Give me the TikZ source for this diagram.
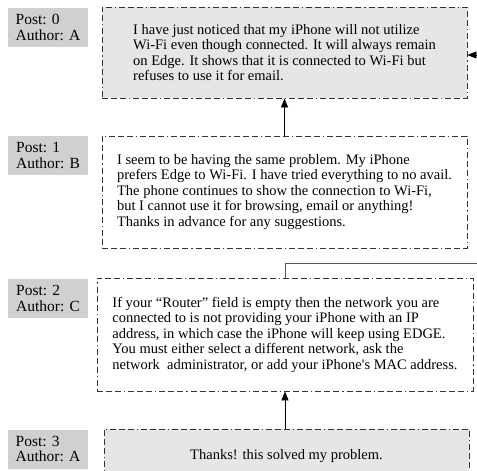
\documentclass[tikz,border=0pt]{standalone}
\usepackage{fontspec}
\setmainfont{Liberation Serif}
\usetikzlibrary{arrows.meta}
\definecolor{labelgray}{HTML}{D0D0D0}
\definecolor{postgray}{HTML}{E6E6E6}
\begin{document}
\begin{tikzpicture}[x=1pt, y=-1pt,
    font=\fontsize{14.5}{15.5}\selectfont,
    author/.style={fill=labelgray, align=left, minimum width=80, minimum height=39, inner sep=0,
        font=\fontsize{15.5}{15.5}\selectfont},
    post/.style={draw=black!80, line width=0.8pt, align=left, inner sep=0,
        dash pattern=on 6pt off 3pt on 6pt off 3pt on 6pt off 3pt on 1.2pt off 3pt},
    reply/.style={-{Triangle[length=9pt,width=7pt]}, line width=0.8pt}]  %thread of posts
    \useasboundingbox (0,0) rectangle (477,471);
    \clip (0,0) rectangle (477,471);
    % author labels
    \node[author] (a0) at (48,27.5) {Post: 0\\Author: A};
    \node[author] (a1) at (48,155.5) {Post: 1\\Author: B};
    \node[author] (a2) at (48,298.5) {Post: 2\\Author: C};
    \node[author] (a3) at (48,449) {Post: 3\\Author: A};
    % posts
    \node[post, fill=postgray, minimum width=365, minimum height=91] (p0) at (284.5,52.5)
        {I have just noticed that my iPhone will not utilize\\
         Wi-Fi even though connected. It will always remain\\
         on Edge. It shows that it is connected to Wi-Fi but\\
         refuses to use it for email.};
    \node[post, fill=white, minimum width=365, minimum height=112] (p1) at (284.5,192)
        {I seem to be having the same problem. My iPhone\\
         prefers Edge to Wi-Fi. I have tried everything to no avail.\\
         The phone continues to show the connection to Wi-Fi,\\
         but I cannot use it for browsing, email or anything!\\
         Thanks in advance for any suggestions.};
    \node[post, fill=white, minimum width=376, minimum height=113] (p2) at (285,334.5)
        {If your “Router” field is empty then the network you are\\
         connected to is not providing your iPhone with an IP\\
         address, in which case the iPhone will keep using EDGE.\\
         You must either select a different network, ask the\\
         network\ \ administrator, or add your iPhone\textquotesingle s MAC address.};
    \node[post, fill=postgray, minimum width=365, minimum height=80, text depth=0pt] (p3) at (286.5,469)
        {\raisebox{30pt}{Thanks! this solved my problem.}};
    % replies
    \coordinate (in0) at (477,55);
    \coordinate (out2) at (477,263);
    \draw[reply] (p1.north) -- (p0.south);
    \draw[reply] (p2.south |- p3.north) -- (p2.south);
    \draw[reply] (in0) -- (in0 -| p0.east);
    \draw[line width=0.8pt, black!65] (p2.north) |- (out2);
\end{tikzpicture}
\end{document}
